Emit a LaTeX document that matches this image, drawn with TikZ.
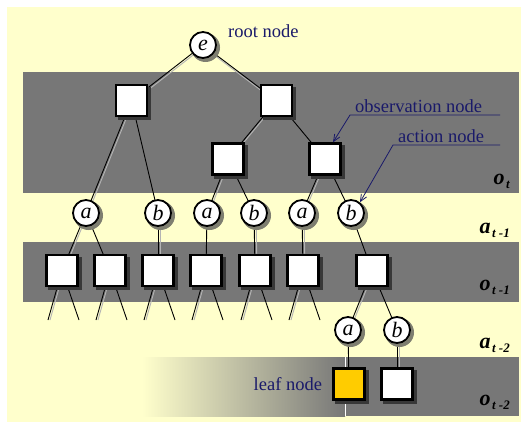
\documentclass[tikz,border=0pt]{standalone}
\usepackage{fontspec}
\setmainfont{Liberation Serif}
\usetikzlibrary{positioning,arrows.meta}
\definecolor{bgyellow}{HTML}{FFFFCC}
\definecolor{bandgray}{HTML}{777777}
\definecolor{notenavy}{HTML}{1A1A6A}
\definecolor{leafgold}{HTML}{FFCC00}
\definecolor{lightline}{HTML}{B4B4B4}
\definecolor{darkshadow}{HTML}{383838}
\definecolor{paleshadow}{HTML}{7E7E70}
\pgfdeclarelayer{bands}
\pgfdeclarelayer{links}
\pgfdeclarelayer{nodeshadows}
\pgfsetlayers{bands,links,nodeshadows,main}
\newcommand{\lvl}[2]{\textbf{\textit{\fontsize{22}{22}\selectfont #1\kern1.5pt\raisebox{-4pt}{\fontsize{13}{13}\selectfont #2}}}}

\begin{document}
\begin{tikzpicture}[x=1pt,y=-1pt,
  obsnode/.style={draw,line width=2.5pt,fill=white,minimum size=31pt,inner sep=0pt},
  actnode/.style={draw,circle,line width=1.8pt,fill=white,minimum size=26pt,inner sep=0pt,
    font=\fontsize{22}{22}\selectfont\itshape},
  link/.style={draw,line width=0.9pt},
  lightlink/.style={draw=lightline,line width=0.9pt},
  note/.style={text=notenavy,font=\fontsize{18.5}{20}\selectfont,inner sep=0pt},
  pointer/.style={draw=notenavy,line width=0.8pt,-{Straight Barb[length=7pt,width=6pt]}},
  lvllabel/.style={anchor=east,inner sep=0pt}]
  \useasboundingbox (0,0) rectangle (527,428);
  \begin{pgfonlayer}{bands}
    \fill[bgyellow] (7,7) rectangle (521,422);
    \fill[bandgray] (23,72) rectangle (519,193);
    \fill[bandgray] (23,242) rectangle (519,302);
    \shade[left color=bgyellow,right color=bandgray] (142,357) rectangle (345,416);
    \fill[bandgray] (345,357) rectangle (519,416);
    \draw[white,line width=0.5pt] (345,357) -- (345,416);
  \end{pgfonlayer}

  \node[actnode] (root) at (203,45) {e};
  \node[obsnode] (o1) at (131.5,100.5) {};
  \node[obsnode] (o2) at (276.5,100.5) {};
  \node[obsnode] (o21) at (228,159) {};
  \node[obsnode] (o22) at (325,159) {};

  \node[actnode] (a1) at (86,213) {a};
  \node[actnode] (b1) at (158,213) {b};
  \node[actnode] (a2) at (207,213) {a};
  \node[actnode] (b2) at (254,213) {b};
  \node[actnode] (a3) at (302,213) {a};
  \node[actnode] (b3) at (351,213) {b};

  \node[obsnode] (p1) at (62,270.5) {};
  \node[obsnode] (p2) at (110,270.5) {};
  \node[obsnode] (p3) at (158,270.5) {};
  \node[obsnode] (p4) at (206,270.5) {};
  \node[obsnode] (p5) at (255,270.5) {};
  \node[obsnode] (p6) at (303,270.5) {};
  \node[obsnode] (p7) at (372,270.5) {};

  \node[actnode] (a4) at (348,330) {a};
  \node[actnode] (b4) at (397,330) {b};
  \node[obsnode,fill=leafgold] (leaf) at (349,384) {};
  \node[obsnode] (q2) at (397,384) {};

  \begin{pgfonlayer}{nodeshadows}
    \foreach \n in {o1,o2,o21,o22,p1,p2,p3,p4,p5,p6,p7,leaf,q2}
      \fill[darkshadow] ([xshift=3pt,yshift=-3pt]\n.south west) rectangle ([xshift=3pt,yshift=-3pt]\n.north east);
    \foreach \n in {root,a1,b1,a2,b2,a3,b3,a4,b4}
      \fill[paleshadow] ([xshift=2.5pt,yshift=-2.5pt]\n.center) circle (14.5pt);
  \end{pgfonlayer}

  \begin{pgfonlayer}{links}
    \foreach \u/\v in {o1/b1,o2/o22,o21/b2,o22/b3,a1/p2,a2/p4,b3/p7,p7/b4,a4/leaf}
      \draw[link] (\u.center) -- (\v.center);
    \foreach \u/\v in {o1/a1,o2/o21,o21/a2,o22/a3,a1/p1,b1/p3,b2/p5,a3/p6,p7/a4,b4/q2} {
      \draw[lightlink] ([xshift=2pt]\u.center) -- ([xshift=2pt]\v.center);
      \draw[link] (\u.center) -- (\v.center);
    }
    \foreach \v in {o1,o2} {
      \draw[lightlink] ([xshift=0.5pt,yshift=-2pt]root.center) -- ([xshift=0.5pt,yshift=-2pt]\v.center);
      \draw[link] (root.center) -- (\v.center);
    }
    \foreach \p/\x in {p1/62,p2/110,p3/158,p4/206,p5/255,p6/303} {
      \coordinate (\p l) at (\x-14,320);
      \coordinate (\p r) at (\x+17,320);
      \draw[lightlink] ([xshift=2pt]\p.center) -- ([xshift=2pt]\p l);
      \draw[link] (\p.center) -- (\p l);
      \draw[link] (\p.center) -- (\p r);
    }
  \end{pgfonlayer}

  \node[note,anchor=west] (rootlbl) at (228,31) {root node};
  \node[note,anchor=west] (obslbl) at (355,106) {observation node};
  \node[note,anchor=west] (actlbl) at (398,136) {action node};
  \node[note,left=10pt of leaf] (leaflbl) {leaf node};
  \coordinate (obsend) at (500,115);
  \coordinate (obsbend) at (350,115);
  \coordinate (actend) at (500,145);
  \coordinate (actbend) at (393,145);
  \draw[pointer] (obsend) -- (obsbend) -- ([xshift=8pt]o22.north);
  \draw[pointer] (actend) -- (actbend) -- (b3.50);

  \node[lvllabel] (lot) at (510,181) {\lvl{o}{t}};
  \node[lvllabel] (lat1) at (510,230) {\lvl{a}{t -1}};
  \node[lvllabel] (lot1) at (510,287) {\lvl{o}{t -1}};
  \node[lvllabel] (lat2) at (510,345) {\lvl{a}{t -2}};
  \node[lvllabel] (lot2) at (510,402) {\lvl{o}{t -2}};
\end{tikzpicture}
\end{document}
